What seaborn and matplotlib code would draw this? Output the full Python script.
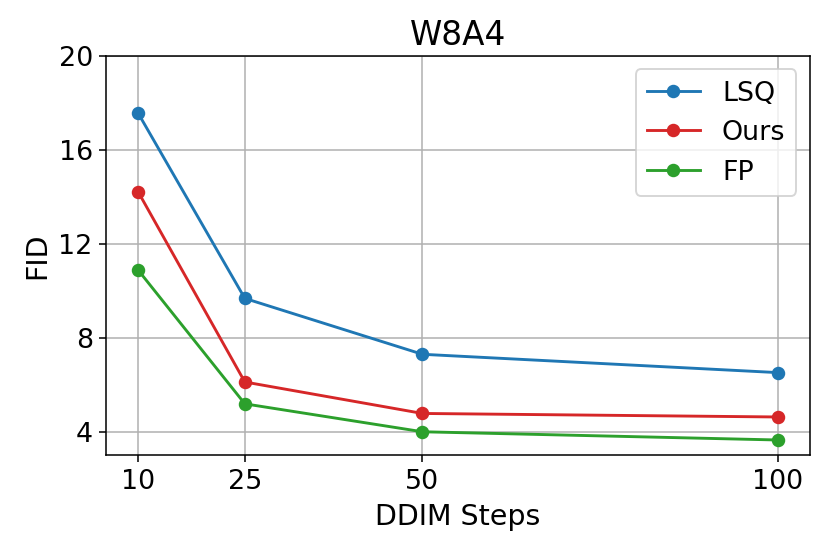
import pandas as pd
import matplotlib
matplotlib.use("Agg")
import matplotlib.pyplot as plt
import seaborn as sns

steps = [10, 25, 50, 100]
lsq = [17.55, 9.67, 7.29, 6.51]
ours = [14.2, 6.11, 4.77, 4.62]
fp = [10.87, 5.18, 3.99, 3.64]

methods = ["LSQ", "Ours", "FP"]
colors = ["tab:blue", "tab:red", "tab:green"]
values = [lsq, ours, fp]

plt.rcParams["font.size"] = 14

fig, ax = plt.subplots(figsize=(6, 4), dpi=138.4)

for name, color, vals in zip(methods, colors, values):
    df = pd.DataFrame({"steps": steps, "fid": vals})
    sns.lineplot(data=df, x="steps", y="fid", color=color, marker="o",
                 markeredgecolor=color, markeredgewidth=1, label=name, ax=ax)

ax.set_xticks(steps)
ax.set_yticks([4, 8, 12, 16, 20])
ax.set_ylim(3, 20)
ax.set_xlabel("DDIM Steps", fontsize=14.8)
ax.set_ylabel("FID", fontsize=14.8)
ax.set_title("W8A4", fontsize=17)
ax.grid(True)
ax.legend(loc="upper right")

fig.subplots_adjust(left=0.128, right=0.975, top=0.898, bottom=0.177)
plt.savefig("out.png")
